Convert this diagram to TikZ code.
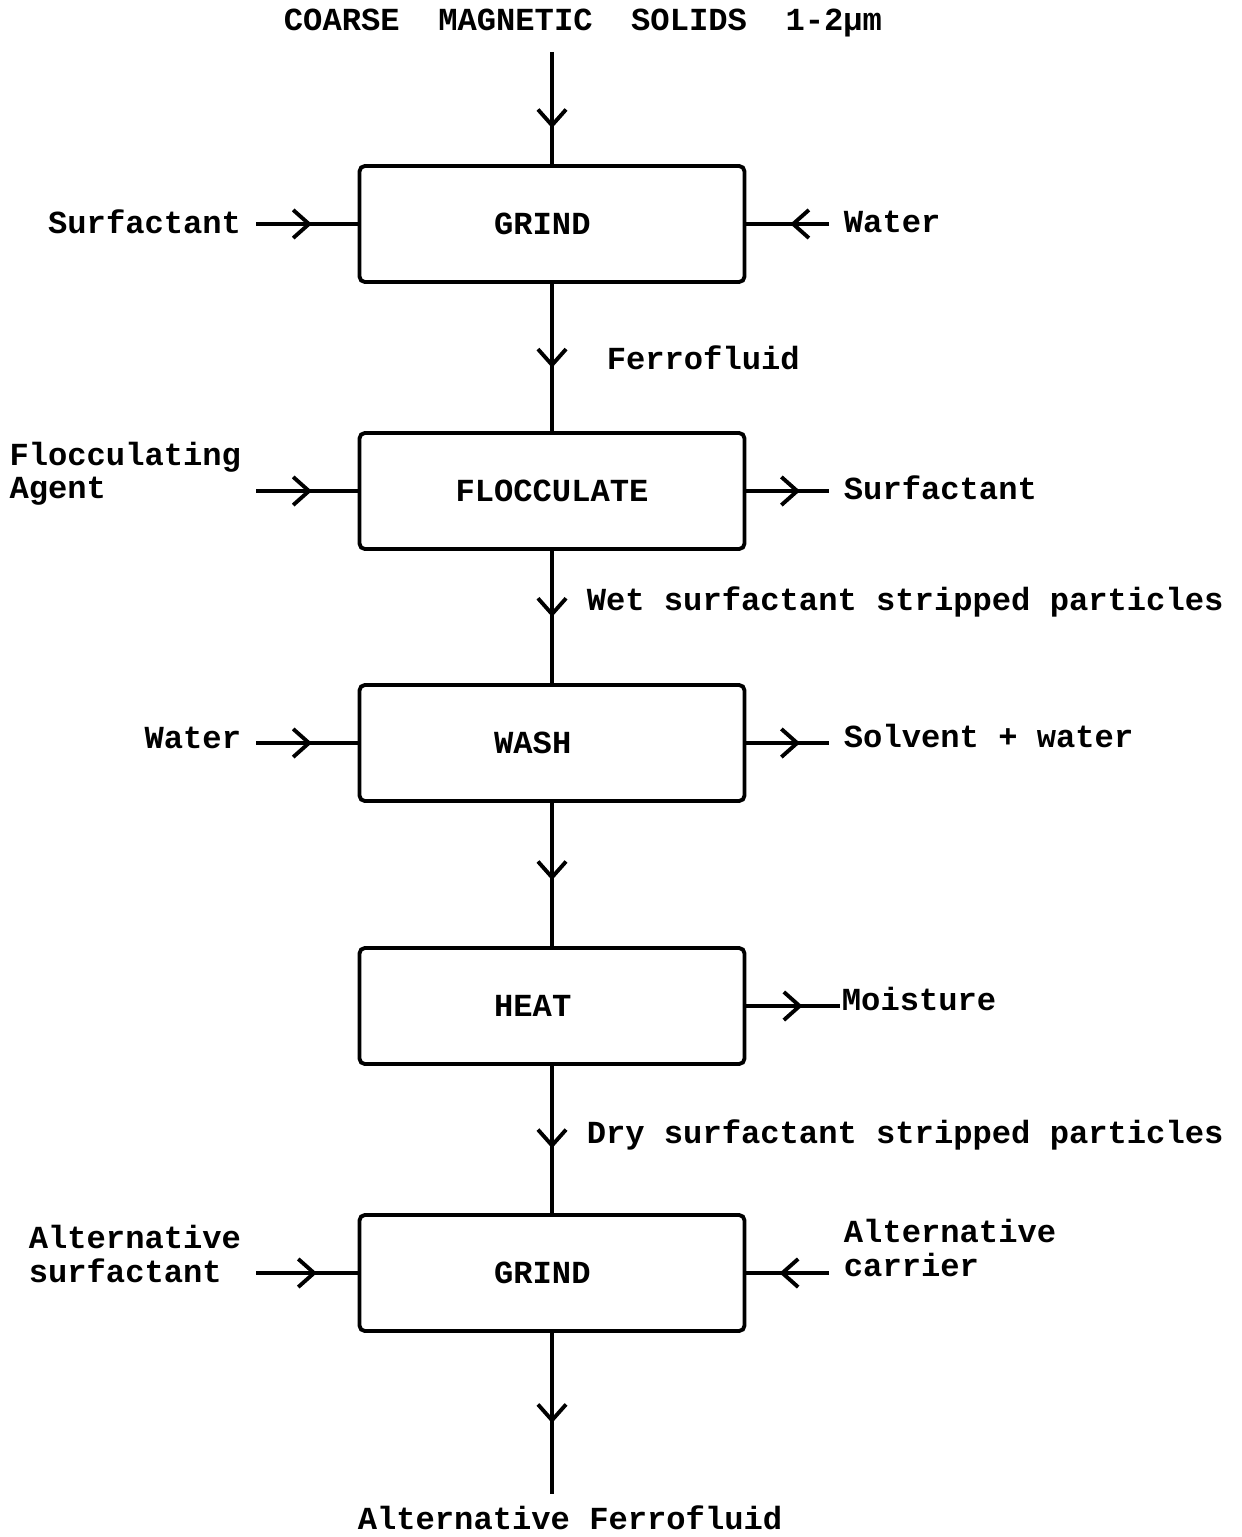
\documentclass[tikz,border=0pt]{standalone}
\usepackage{fontspec}
\setmonofont{Liberation Mono}
\usetikzlibrary{arrows.meta,decorations.markings}

\begin{document}
\begin{tikzpicture}
        [
        x = 0.02cm, y = -0.02cm,
        line width = 2.2pt,
        every node/.style = {font = \ttfamily\bfseries\fontsize{18.3}{18.8}\selectfont},
        stage/.style = {
            draw, rectangle,
            rounded corners = 3pt,
            minimum width = 7.7cm,
            minimum height = 2.32cm,
        },
        stream/.style = {
            inner sep = 0pt, inner xsep = 0.26cm,
            align = left,
        },
        flow/.style = {
            postaction = {decorate},
            decoration = {markings,
                mark = at position #1 with {\arrow{Straight Barb[length = 9pt, width = 16pt]}}},
        },
        flow/.default = 0.55,
        ]

        \useasboundingbox (0, 0) rectangle (1241, 1537);

        % Stappen
        \node[stage] (grind) at (552, 224) {GRIND\kern0.6em};
        \node[stage] (flocculate) at (552, 491) {FLOCCULATE};
        \node[stage] (wash) at (552, 743) {WASH\kern1.2em};
        \node[stage] (heat) at (552, 1006) {HEAT\kern1.2em};
        \node[stage] (regrind) at (552, 1273) {GRIND\kern0.6em};

        % Begin en eind
        \node[inner xsep = 0pt, inner ysep = 0.26cm, anchor = south] (solids) at (583, 52) {COARSE\ \ MAGNETIC\ \ SOLIDS\ \ 1-2µm};
        \node[inner xsep = 0pt, inner ysep = 0.2cm, anchor = north] (product) at (570, 1494) {Alternative Ferrofluid};

        % Stromen links
        \node[stream, anchor = east] (surfactant) at (256, 222) {Surfactant};
        \node[stream, anchor = east] (agent) at (256, 474) {Flocculating\\Agent};
        \node[stream, anchor = east] (water_wash) at (256, 738) {Water};
        \node[stream, anchor = east] (alt_surfactant) at (256, 1254) {Alternative\\surfactant};

        % Stromen rechts
        \node[stream, anchor = west] (water) at (829, 222) {Water};
        \node[stream, anchor = west] (surfactant_out) at (829, 488) {Surfactant};
        \node[stream, anchor = west] (solvent) at (829, 736) {Solvent + water};
        \node[stream, anchor = west, inner xsep = 0pt] (moisture) at (840, 999) {Moisture};
        \node[stream, anchor = west] (alt_carrier) at (829, 1248) {Alternative\\carrier};

        % Hoofdlijn
        \path
            (solids.south -| grind.north) edge[flow = 0.68] (grind.north)
            (grind) edge[flow = 0.57] node[right = 0.94cm] {Ferrofluid} (flocculate)
            (flocculate) edge[flow = 0.5] node[right = 0.54cm, yshift = 0.3cm] {Wet surfactant stripped particles} (wash)
            (wash) edge[flow = 0.54] (heat)
            (heat) edge[flow = 0.56] node[right = 0.54cm, yshift = 0.1cm] {Dry surfactant stripped particles} (regrind)
            (regrind) edge[flow = 0.56] (product.north -| regrind.south);

        % Zijstromen
        \path
            (surfactant.east |- grind.west) edge[flow] (grind.west)
            (water.west |- grind.east) edge[flow = 0.47] (grind.east)
            (agent.east |- flocculate.west) edge[flow] (flocculate.west)
            (flocculate.east) edge[flow = 0.65] (surfactant_out.west |- flocculate.east)
            (water_wash.east |- wash.west) edge[flow] (wash.west)
            (wash.east) edge[flow = 0.65] (solvent.west |- wash.east)
            (heat.east) edge[flow = 0.6] (moisture.west |- heat.east)
            (alt_surfactant.east |- regrind.west) edge[flow = 0.6] (regrind.west)
            (alt_carrier.west |- regrind.east) edge[flow = 0.6] (regrind.east);
    \end{tikzpicture}
\end{document}
